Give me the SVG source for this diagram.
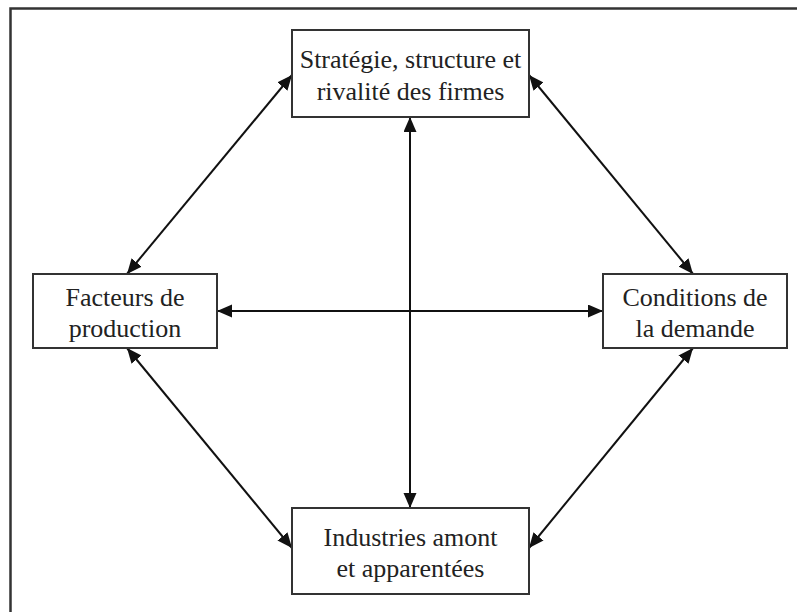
<svg xmlns="http://www.w3.org/2000/svg" width="797" height="612" viewBox="0 0 797 612">
<defs>
<marker id="ah" markerUnits="userSpaceOnUse" markerWidth="16" markerHeight="14" refX="15" refY="6.5" orient="auto-start-reverse" viewBox="0 0 16 14">
<path d="M0,0 L15,6.5 L0,13 z" fill="#111"/>
</marker>
<style>
.box{fill:#fff;stroke:#333;stroke-width:2}
.lbl{font-size:26px;fill:#222;text-anchor:middle}
.con{stroke:#111;stroke-width:2;fill:none;marker-start:url(#ah);marker-end:url(#ah)}
</style>
</defs>
<rect width="797" height="612" fill="#fff"/>
<path d="M10.5,612 V8.5 H797" fill="none" stroke="#333" stroke-width="2.5"/>
<g id="connectors">
<line class="con" x1="410" y1="117" x2="410" y2="508"/>
<line class="con" x1="217" y1="311" x2="603" y2="311"/>
<line class="con" x1="292" y1="75" x2="127" y2="274"/>
<line class="con" x1="529" y1="75" x2="693" y2="274"/>
<line class="con" x1="127" y1="348" x2="292" y2="548"/>
<line class="con" x1="693" y1="348" x2="529" y2="548"/>
</g>
<g font-family="'Liberation Serif', 'Times New Roman', 'DejaVu Serif', serif">
<g id="strategie">
<rect class="box" x="292" y="30" width="237" height="87"/>
<text class="lbl" x="410.5" y="68">Stratégie, structure et</text>
<text class="lbl" x="410.5" y="100">rivalité des firmes</text>
</g>
<g id="facteurs">
<rect class="box" x="33" y="274" width="184" height="74"/>
<text class="lbl" x="125" y="306">Facteurs de</text>
<text class="lbl" x="125" y="337">production</text>
</g>
<g id="conditions">
<rect class="box" x="603" y="274" width="184" height="74"/>
<text class="lbl" x="695" y="306">Conditions de</text>
<text class="lbl" x="695" y="337">la demande</text>
</g>
<g id="industries">
<rect class="box" x="292" y="508" width="237" height="86"/>
<text class="lbl" x="410.5" y="546">Industries amont</text>
<text class="lbl" x="410.5" y="577">et apparentées</text>
</g>
</g>
</svg>
